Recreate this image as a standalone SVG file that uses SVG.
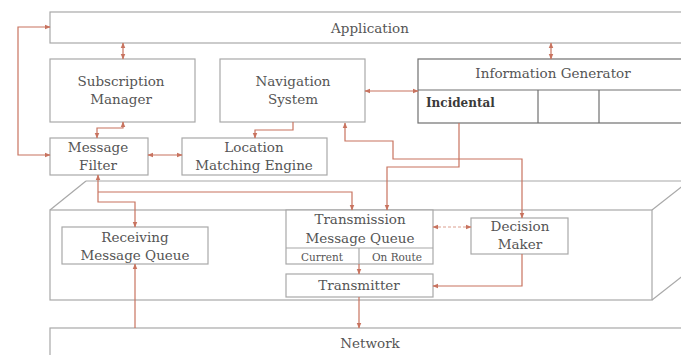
<svg xmlns="http://www.w3.org/2000/svg" width="681" height="355" viewBox="0 0 681 355">
<defs>
<marker id="ah" viewBox="0 0 10 10" refX="9" refY="5" markerWidth="6" markerHeight="6" orient="auto-start-reverse" markerUnits="userSpaceOnUse">
<path d="M0,1 L10,5 L0,9 z" fill="#c8735f"/>
</marker>
<style>
.box{fill:#fff;stroke:#a8a8a8;stroke-width:1.2}
.dark{fill:#fff;stroke:#707070;stroke-width:1.2}
.ln{fill:none;stroke:#a8a8a8;stroke-width:1.2}
.dl{fill:none;stroke:#707070;stroke-width:1.2}
.c{fill:none;stroke:#c8735f;stroke-width:1.2}
.e{marker-end:url(#ah)}
.b{marker-start:url(#ah);marker-end:url(#ah)}
.dash{stroke-dasharray:3 2;stroke:#dba090}
text{font-family:"DejaVu Serif","Liberation Serif",serif;font-size:13.5px;fill:#555;text-anchor:middle}
.sm{font-size:10.5px}
.inc{font-weight:bold;font-size:12px;fill:#3a3a3a;text-anchor:start}
</style>
</defs>
<rect width="681" height="355" fill="#fff"/>

<g id="platform">
<line class="ln" x1="86" y1="181" x2="690" y2="181"/>
<line class="ln" x1="50" y1="210" x2="86" y2="181"/>
<line class="ln" x1="652" y1="210" x2="684" y2="185"/>
<line class="ln" x1="652" y1="300" x2="684" y2="275"/>
<rect class="box" x="50" y="210" width="602" height="90"/>
</g>

<g id="application">
<rect class="box" x="50" y="12" width="640" height="31"/>
<text x="370" y="33">Application</text>
</g>

<g id="subscription-manager">
<rect class="box" x="50" y="59" width="145" height="63"/>
<text x="121" y="86">Subscription</text>
<text x="121" y="104">Manager</text>
</g>

<g id="navigation-system">
<rect class="box" x="220" y="59" width="145" height="63"/>
<text x="293" y="86">Navigation</text>
<text x="293" y="104">System</text>
</g>

<g id="information-generator">
<rect class="dark" x="418" y="59" width="272" height="64"/>
<line class="dl" x1="418" y1="90" x2="690" y2="90"/>
<line class="dl" x1="538" y1="90" x2="538" y2="123"/>
<line class="dl" x1="599" y1="90" x2="599" y2="123"/>
<text x="553" y="78">Information Generator</text>
<text class="inc" x="426" y="107">Incidental</text>
</g>

<g id="message-filter">
<rect class="box" x="50" y="138" width="98" height="37"/>
<text x="98" y="152">Message</text>
<text x="98" y="170">Filter</text>
</g>

<g id="location-matching-engine">
<rect class="box" x="182" y="138" width="145" height="37"/>
<text x="254" y="152">Location</text>
<text x="254" y="170">Matching Engine</text>
</g>

<g id="receiving-message-queue">
<rect class="box" x="62" y="227" width="146" height="37"/>
<text x="135" y="242">Receiving</text>
<text x="135" y="260">Message Queue</text>
</g>

<g id="transmission-message-queue">
<rect class="box" x="286" y="210" width="147" height="54"/>
<line class="ln" x1="286" y1="248" x2="433" y2="248"/>
<line class="ln" x1="359" y1="248" x2="359" y2="264"/>
<text x="360" y="224">Transmission</text>
<text x="360" y="243">Message Queue</text>
<text class="sm" x="322" y="261">Current</text>
<text class="sm" x="397" y="261">On Route</text>
</g>

<g id="transmitter">
<rect class="box" x="286" y="274" width="147" height="23"/>
<text x="359" y="290">Transmitter</text>
</g>

<g id="decision-maker">
<rect class="box" x="471" y="218" width="97" height="36"/>
<text x="520" y="231">Decision</text>
<text x="520" y="249">Maker</text>
</g>

<g id="network">
<rect class="box" x="50" y="328" width="640" height="40"/>
<text x="370" y="348">Network</text>
</g>

<g id="connectors">
<path class="c b" d="M50,155 L18,155 L18,27 L50,27"/>
<path class="c b" d="M123,43 L123,59"/>
<path class="c b" d="M551,43 L551,59"/>
<path class="c b" d="M123,122 L123,128 L97,128 L97,138"/>
<path class="c e" d="M293,122 L293,130 L255,130 L255,138"/>
<path class="c b" d="M148,155 L182,155"/>
<path class="c b" d="M365,91 L418,91"/>
<path class="c b" d="M345,123 L345,141 L393,141 L393,159 L522,159 L522,218"/>
<path class="c e" d="M459,123 L459,167 L387,167 L387,210"/>
<path class="c b" d="M98,175 L98,202 L135,202 L135,227"/>
<path class="c e" d="M98,192 L352,192 L352,210"/>
<path class="c b dash" d="M433,227 L471,227"/>
<path class="c e" d="M359,264 L359,274"/>
<path class="c e" d="M522,254 L522,286 L433,286"/>
<path class="c e" d="M359,297 L359,328"/>
<path class="c e" d="M135,328 L135,264"/>
</g>
</svg>
